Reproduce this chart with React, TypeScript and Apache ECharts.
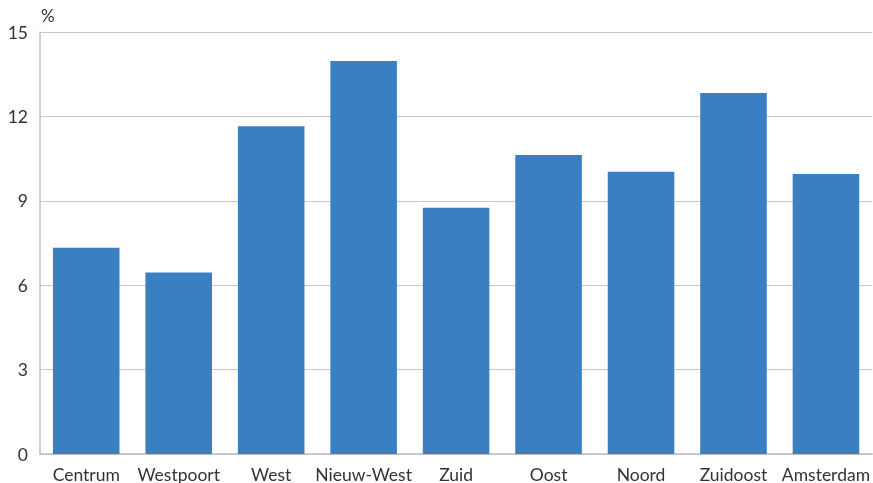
import React, { useEffect, useRef } from "react";
import * as echarts from "echarts";

const categories = ["Centrum", "Westpoort", "West", "Nieuw-West", "Zuid", "Oost", "Noord", "Zuidoost", "Amsterdam"];
const values = [7.33, 6.45, 11.65, 13.97, 8.75, 10.63, 10.03, 12.83, 9.95];
const yTicks = { min: 0, max: 15, interval: 3 };
const yUnit = "%";

export default function App() {
  const ref = useRef<HTMLDivElement>(null);
  useEffect(() => {
    if (!ref.current) return;
    const chart = echarts.init(ref.current, null, { renderer: "svg" });
    const font = "Lato, 'Noto Sans', sans-serif";
    chart.setOption({
      animation: false,
      grid: { left: 40, right: 0, top: 32, bottom: 29, containLabel: false },
      xAxis: {
        type: "category",
        data: categories,
        axisLine: { show: true, lineStyle: { color: "#c0c0c0", width: 1.5 } },
        axisTick: { show: false },
        axisLabel: { color: "#333", fontSize: 17.5, fontFamily: font, margin: 11, interval: 0 },
      },
      yAxis: {
        type: "value",
        min: yTicks.min,
        max: yTicks.max,
        interval: yTicks.interval,
        name: yUnit,
        nameLocation: "end",
        nameGap: 8,
        nameTextStyle: { color: "#333", fontSize: 17, fontFamily: font, align: "left", padding: [0, 0, 0, 1] },
        axisLine: { show: true, lineStyle: { color: "#c0c0c0", width: 1.5 } },
        axisTick: { show: false },
        splitLine: { show: true, lineStyle: { color: "#c8c8c8", width: 1.2 } },
        axisLabel: { color: "#333", fontSize: 17.5, fontFamily: font, margin: 12 },
      },
      series: [
        {
          type: "bar",
          data: values,
          barCategoryGap: "28%",
          itemStyle: { color: "#3A7FC2" },
        },
      ],
    });
    return () => chart.dispose();
  }, []);
  return (
    <div
      ref={ref}
      style={{ position: "fixed", left: 0, top: 0, width: 873, height: 483 }}
    />
  );
}
